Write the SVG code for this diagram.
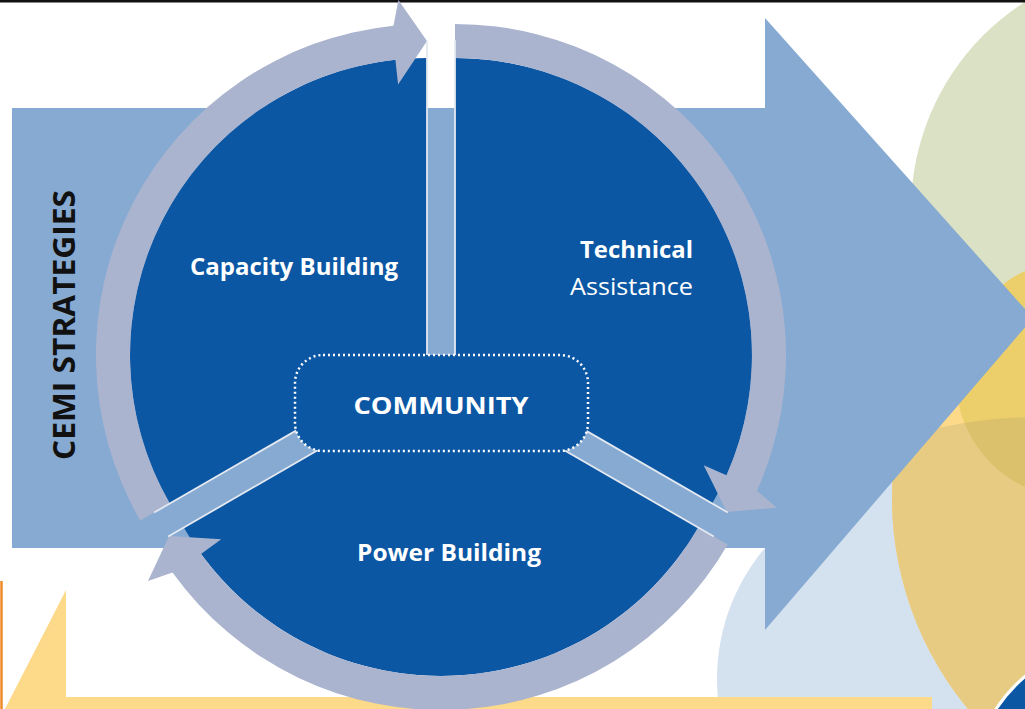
<svg xmlns="http://www.w3.org/2000/svg" width="1025" height="709" viewBox="0 0 1025 709">
  <defs>
    <style>
      .slice { fill: #0b57a4; }
      .ring { fill: #abb4cf; }
      .edge { stroke: #e4e8f0; stroke-width: 1.8; fill: none; }
      .lbl { font-family: "Open Sans", "Liberation Sans", sans-serif; fill: #ffffff; font-size: 23px; }
      .b { font-weight: bold; }
    </style>
    <clipPath id="lowerBand">
      <circle cx="1040" cy="900" r="483"/>
    </clipPath>
  </defs>

  <rect width="1025" height="709" fill="#ffffff"/>

  <!-- background shapes -->
  <g id="backdrop">
    <circle cx="920" cy="679" r="203" fill="#d4e1ee"/>
    <circle cx="1223" cy="498" r="331" fill="#fdd98a"/>
    <circle cx="1158" cy="210" r="247" fill="#dae1c4"/>
    <circle cx="1075" cy="379" r="119" fill="#ecce6b"/>
    <g clip-path="url(#lowerBand)">
      <circle cx="1223" cy="498" r="331" fill="#e8cb82"/>
      <circle cx="1075" cy="379" r="119" fill="#dcc16c"/>
    </g>
    <circle cx="1120" cy="790" r="148" fill="#0b57a4" stroke="#ffffff" stroke-width="3"/>
    <polygon points="66,590 66,697 932,697 932,709 5,709" fill="#fdd98a"/>
    <line x1="1.5" y1="581" x2="1.5" y2="709" stroke="#ef8a2a" stroke-width="2.5"/>
    <line x1="0" y1="1.2" x2="1025" y2="1.2" stroke="#111111" stroke-width="2.4"/>
  </g>

  <!-- large strategy arrow -->
  <g id="strategy-arrow">
    <polygon points="12,108 765,108 765,18 1033,318 765,630 765,548 12,548" fill="#86aad2"/>
    <text x="75" y="325" transform="rotate(-90 75 325)" text-anchor="middle" font-family="'Open Sans', 'Liberation Sans', sans-serif" font-weight="bold" font-size="31" fill="#111111" textLength="270" lengthAdjust="spacingAndGlyphs">CEMI STRATEGIES</text>
  </g>

  <!-- cycle segments -->
  <g id="capacity-building">
    <path class="slice" d="M427 355 L169.8 503.5 A297 297 0 0 1 427 58 Z"/>
    <path class="ring" d="M140.3 520.5 A331 331 0 0 1 393.5 25.7 L398.4 0.1 L427 41 L398.1 84.5 L395.4 59.7 A297 297 0 0 0 169.8 503.5 Z"/>
    <path class="edge" d="M427 355 L427 41 M427 355 L154.2 512.5"/>
    <text class="lbl b" x="294" y="275" text-anchor="middle" textLength="208" lengthAdjust="spacingAndGlyphs">Capacity Building</text>
  </g>

  <g id="technical-assistance">
    <path class="slice" d="M455 355 L455 58 A297 297 0 0 1 712.2 503.5 Z"/>
    <path class="ring" d="M455 24 A331 331 0 0 1 756.9 490.7 L776.6 507.7 L726.9 512 L703.7 465.2 L726.5 475.3 A297 297 0 0 0 455 58 Z"/>
    <path class="edge" d="M455 355 L455 40 M455 355 L727.8 512.5"/>
    <text class="lbl b" x="693" y="258" text-anchor="end" textLength="113" lengthAdjust="spacingAndGlyphs">Technical</text>
    <text class="lbl" x="693" y="295" text-anchor="end" textLength="123" lengthAdjust="spacingAndGlyphs">Assistance</text>
  </g>

  <g id="power-building">
    <path class="slice" d="M441 379 L698.2 527.5 A297 297 0 0 1 183.8 527.5 Z"/>
    <path class="ring" d="M727.7 544.5 A331 331 0 0 1 172.5 572.6 L148 581.1 L169.1 536 L221.2 539.3 L201 554 A297 297 0 0 0 698.2 527.5 Z"/>
    <path class="edge" d="M441 379 L713.8 536.5 M441 379 L168.2 536.5"/>
    <text class="lbl b" x="449" y="561" text-anchor="middle" textLength="184" lengthAdjust="spacingAndGlyphs">Power Building</text>
  </g>

  <g id="community">
    <rect x="295" y="355" width="293" height="96" rx="28" fill="#0b57a4" stroke="#ffffff" stroke-width="2.5" stroke-dasharray="2 3"/>
    <text class="lbl b" x="441" y="414" text-anchor="middle" font-size="27" textLength="175" lengthAdjust="spacingAndGlyphs">COMMUNITY</text>
  </g>
</svg>
